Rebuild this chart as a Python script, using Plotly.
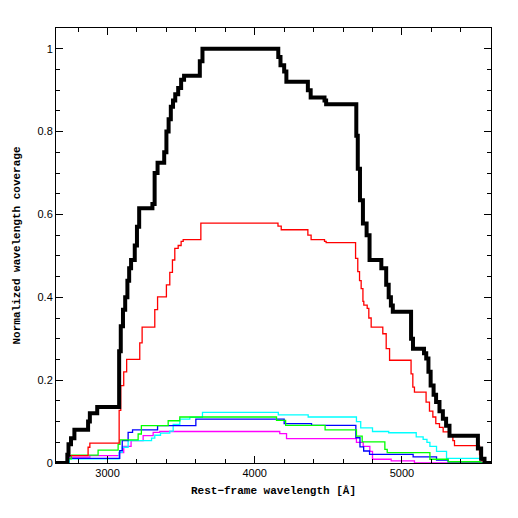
import plotly.graph_objects as go

# Step curves: wavelength (Å) where the coverage value changes, and the new value
black_x = [2650, 2727, 2735, 2752, 2775, 2868, 2880, 2930, 3079, 3090, 3105, 3120, 3135, 3147, 3160,
           3185, 3200, 3215, 3305, 3320, 3340, 3385, 3400, 3415, 3430, 3445, 3460, 3480, 3500, 3520,
           3627, 3645, 4160, 4175, 4200, 4215, 4361, 4380, 4474, 4485, 4690, 4700, 4715, 4735, 4760,
           4780, 4860, 4893, 4910, 4925, 4938, 5062, 5075, 5150, 5165, 5180, 5195, 5215, 5232, 5255,
           5278, 5300, 5323, 5516, 5538, 5561, 5605]
black_y = [0, 0.02, 0.045, 0.06, 0.08, 0.10, 0.12, 0.135, 0.27, 0.33, 0.37, 0.40, 0.44, 0.47, 0.49,
           0.525, 0.57, 0.615, 0.625, 0.70, 0.725, 0.75, 0.80, 0.83, 0.86, 0.875, 0.89, 0.905, 0.925, 0.935,
           0.97, 1.0, 0.98, 0.96, 0.945, 0.92, 0.90, 0.882, 0.875, 0.866, 0.79, 0.71, 0.634, 0.578, 0.55,
           0.49, 0.47, 0.43, 0.40, 0.38, 0.365, 0.30, 0.276, 0.265, 0.252, 0.22, 0.187, 0.165, 0.147, 0.125,
           0.107, 0.09, 0.066, 0.035, 0.01, 0, 0]

red_x = [2650, 2725, 2868, 2880, 3079, 3090, 3110, 3130, 3219, 3235, 3321, 3340, 3400, 3423, 3441,
         3457, 3480, 3500, 3514, 3634, 4158, 4180, 4361, 4383, 4474, 4485, 4685, 4700, 4712, 4723,
         4735, 4741, 4764, 4775, 4791, 4870, 4893, 4916, 5062, 5074, 5085, 5164, 5187, 5210, 5230,
         5255, 5280, 5323, 5346, 5357, 5527, 5540, 5561, 5605]
red_y = [0, 0.018, 0.038, 0.048, 0.127, 0.187, 0.22, 0.25, 0.29, 0.328, 0.37, 0.401, 0.43, 0.46, 0.49,
         0.518, 0.525, 0.535, 0.539, 0.579, 0.572, 0.563, 0.55, 0.539, 0.535, 0.532, 0.494, 0.462, 0.44, 0.421,
         0.39, 0.381, 0.373, 0.35, 0.328, 0.312, 0.276, 0.248, 0.215, 0.183, 0.171, 0.147, 0.125, 0.111, 0.095,
         0.086, 0.075, 0.066, 0.054, 0.042, 0.02, 0.005, 0, 0]

green_x = [2650, 2732, 2755, 2936, 3072, 3085, 3208, 3230, 3412, 3491, 4148, 4210, 4478, 4691, 4730,
           4884, 4900, 5190, 5314, 5530, 5605]
green_y = [0, 0.01, 0.019, 0.031, 0.045, 0.056, 0.07, 0.09, 0.102, 0.111, 0.103, 0.091, 0.08, 0.065, 0.051,
           0.033, 0.025, 0.009, 0.003, 0, 0]

blue_x = [2650, 2730, 3083, 3100, 3140, 3170, 3340, 3600, 4200, 4386, 4687, 4715, 4740, 4780, 5076,
          5235, 5314, 5530, 5605]
blue_y = [0, 0.011, 0.03, 0.054, 0.074, 0.08, 0.09, 0.106, 0.095, 0.091, 0.061, 0.039, 0.029, 0.021, 0.015,
          0.007, 0.003, 0, 0]

cyan_x = [2650, 2740, 3079, 3100, 3140, 3299, 3321, 3360, 3423, 3446, 3491, 3559, 3645, 4160, 4363,
          4691, 4720, 4800, 4910, 5097, 5144, 5170, 5190, 5235, 5303, 5538, 5605]
cyan_y = [0, 0.01, 0.026, 0.038, 0.054, 0.06, 0.067, 0.072, 0.077, 0.093, 0.106, 0.11, 0.122, 0.116, 0.111,
          0.10, 0.085, 0.076, 0.073, 0.063, 0.057, 0.05, 0.04, 0.028, 0.011, 0, 0]

magenta_x = [2650, 2740, 2880, 3079, 3110, 3160, 3242, 3310, 3355, 4170, 4216, 4691, 4737, 4782, 4800,
             4927, 5085, 5605]
magenta_y = [0, 0.014, 0.018, 0.025, 0.04, 0.054, 0.066, 0.074, 0.076, 0.071, 0.059, 0.05, 0.04, 0.028, 0.009,
             0.005, 0.0, 0]

x_tick_vals = [3000, 4000, 5000]
y_tick_vals = [0, 0.2, 0.4, 0.6, 0.8, 1.0]
y_tick_text = ["0", "0.2", "0.4", "0.6", "0.8", "1"]

series = [
    (magenta_x, magenta_y, "#ff00ff", 1.3),
    (cyan_x, cyan_y, "#00ffff", 1.3),
    (blue_x, blue_y, "#0000ff", 1.3),
    (green_x, green_y, "#00ff00", 1.3),
    (red_x, red_y, "#ff0000", 1.3),
    (black_x, black_y, "#000000", 4.0),
]

fig = go.Figure()
for xs, ys, col, w in series:
    fig.add_trace(go.Scatter(x=xs, y=ys, mode="lines", line=dict(color=col, width=w, shape="hv"),
                             showlegend=False, hoverinfo="skip"))

axis_common = dict(
    showgrid=False, zeroline=False, showline=True, linecolor="black", linewidth=1,
    mirror="allticks", ticks="inside", ticklen=7, tickcolor="black", tickwidth=1,
    tickfont=dict(family="Liberation Sans, Arial", size=11, color="black"),
)

fig.update_xaxes(
    range=[2650, 5605], tickvals=x_tick_vals, ticktext=[str(v) for v in x_tick_vals],
    minor=dict(dtick=200, ticks="inside", ticklen=4, tickcolor="black", showgrid=False),
    title=dict(text="<b>Rest\u2212frame wavelength [Å]</b>",
               font=dict(family="Liberation Mono, Courier New", size=11, color="black"), standoff=8),
    **axis_common,
)
fig.update_yaxes(
    range=[0, 1.05], tickvals=y_tick_vals, ticktext=y_tick_text,
    minor=dict(dtick=0.05, ticks="inside", ticklen=4, tickcolor="black", showgrid=False),
    title=dict(text="<b>Normalized wavelength coverage</b>",
               font=dict(family="Liberation Mono, Courier New", size=11, color="black"), standoff=14),
    **axis_common,
)

fig.update_layout(
    width=510, height=510,
    margin=dict(l=48, r=27, t=20, b=55, autoexpand=False),
    paper_bgcolor="white", plot_bgcolor="white",
)

fig.write_html("out.html")
